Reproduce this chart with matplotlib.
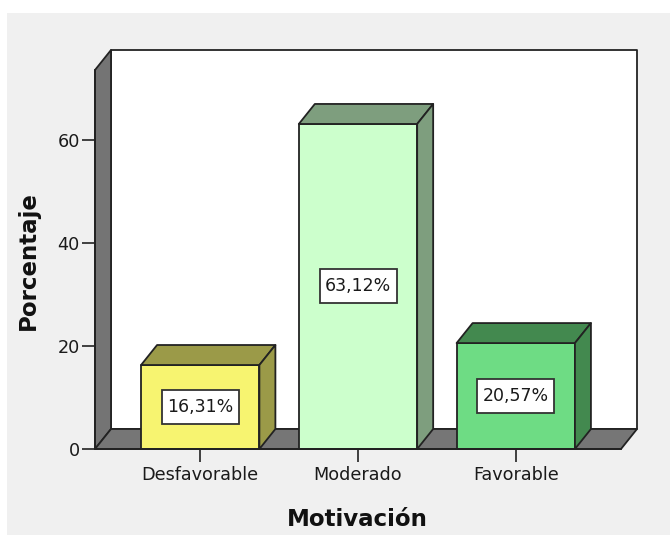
import numpy as np
from matplotlib import pyplot as plt
from matplotlib.patches import Polygon, Rectangle

categories = ["Desfavorable", "Moderado", "Favorable"]
percentages = [16.31, 63.12, 20.57]
y_ticks = [0, 20, 40, 60]

front_colors = ["#f7f470", "#ccffcc", "#6edc84"]
shade_colors = ["#9b9a48", "#7e9e7e", "#43894f"]

W, H = 670, 535
DEPTH_X, DEPTH_Y = 16, 20  # pixels of the fake 3d depth
EDGE = "#222222"
LW = 1.3

fig = plt.figure(figsize=(W / 100, H / 100), dpi=100, facecolor="white")
fig.patches.append(Rectangle((7 / W, 0), 1 - 7 / W, (H - 13) / H, transform=fig.transFigure,
                             facecolor="#f0f0f0", edgecolor="none", zorder=-10))

# axes = front plane of the chart box
left_px, right_px, bottom_px, top_px = 95, 621, 449, 70
ax = fig.add_axes([left_px / W, (H - bottom_px) / H, (right_px - left_px) / W, (bottom_px - top_px) / H])
ax.patch.set_visible(False)

x = np.arange(len(categories))
xmin, xmax = -0.667, len(categories) - 1 + 0.667
ymin, ymax = 0, 73.6
ax.set_xlim(xmin, xmax)
ax.set_ylim(ymin, ymax)

# pixel -> data unit conversion
px_x = (xmax - xmin) / (right_px - left_px)
px_y = (ymax - ymin) / (bottom_px - top_px)
ddx, ddy = DEPTH_X * px_x, DEPTH_Y * px_y


def poly(pts, color, z):
    ax.add_patch(Polygon(pts, closed=True, facecolor=color, edgecolor=EDGE, linewidth=LW,
                         joinstyle="round", clip_on=False, zorder=z))


# back wall, left wall, floor
poly([(xmin + ddx, ddy), (xmax + ddx, ddy), (xmax + ddx, ymax + ddy), (xmin + ddx, ymax + ddy)], "white", 1)
poly([(xmin, 0), (xmin, ymax), (xmin + ddx, ymax + ddy), (xmin + ddx, ddy)], "#747474", 2)
poly([(xmin, 0), (xmax, 0), (xmax + ddx, ddy), (xmin + ddx, ddy)], "#767676", 2)

bw = 0.75
box_w, box_h = 77 * px_x, 34 * px_y
for xi, val, fc, sc in zip(x, percentages, front_colors, shade_colors):
    x0, x1 = xi - bw / 2, xi + bw / 2
    poly([(x0, 0), (x1, 0), (x1, val), (x0, val)], fc, 3)
    poly([(x0, val), (x1, val), (x1 + ddx, val + ddy), (x0 + ddx, val + ddy)], sc, 3)
    poly([(x1, 0), (x1 + ddx, ddy), (x1 + ddx, val + ddy), (x1, val)], sc, 3)
    ax.add_patch(Rectangle((xi - box_w / 2, val / 2 - box_h / 2), box_w, box_h, facecolor="white",
                           edgecolor="#333333", linewidth=1.3, zorder=4))
    label = f"{val:.2f}%".replace(".", ",")
    ax.text(xi, val / 2, label, ha="center", va="center", fontsize=12.5, color="#1a1a1a", zorder=5)

for s in ax.spines.values():
    s.set_visible(False)
ax.plot([xmin, xmin], [0, ymax], color=EDGE, lw=LW, clip_on=False, zorder=4)
ax.plot([xmin, xmax], [0, 0], color=EDGE, lw=LW, clip_on=False, zorder=4)

ax.set_xticks(x)
ax.set_xticklabels(categories)
ax.set_yticks(y_ticks)
ax.tick_params(axis="both", length=9.4, width=1.2, color=EDGE, labelsize=12.7, labelcolor="#1a1a1a")
ax.tick_params(axis="y", pad=1.5)
ax.tick_params(axis="x", pad=3)

fig.text(357 / W, 1 - 520 / H, "Motivación", ha="center", va="center", fontsize=16.5,
         fontweight="bold", color="#111111")
fig.text(28 / W, 1 - 261 / H, "Porcentaje", ha="center", va="center", rotation=90, fontsize=16.5,
         fontweight="bold", color="#111111")

fig.savefig("out.png", dpi=100)
